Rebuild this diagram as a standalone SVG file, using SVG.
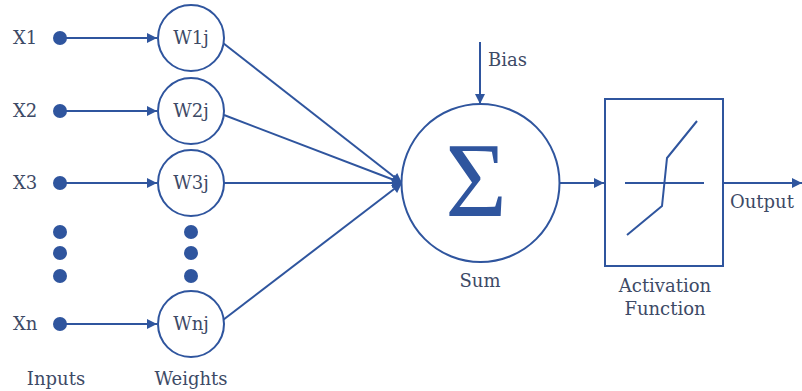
<svg xmlns="http://www.w3.org/2000/svg" width="802" height="391" viewBox="0 0 802 391">
<style>
.t{font-family:"DejaVu Serif","Liberation Serif",serif;font-size:18px;fill:#3d4a66}
.ln{stroke:#2f559e;stroke-width:2;fill:none}
.nd{stroke:#2f559e;stroke-width:2;fill:#fff}
.dot{fill:#2f559e}
</style>
<defs>
<marker id="ahs" viewBox="0 0 10 10" refX="10" refY="5" markerWidth="6" markerHeight="5" orient="auto">
<path d="M0,0 L10,5 L0,10 z" fill="#2f559e"/>
</marker>
</defs>
<g id="connectors">
<line class="ln" x1="60" y1="38" x2="157" y2="38" marker-end="url(#ahs)"/>
<line class="ln" x1="60" y1="111" x2="157" y2="111" marker-end="url(#ahs)"/>
<line class="ln" x1="60" y1="183" x2="157" y2="183" marker-end="url(#ahs)"/>
<line class="ln" x1="60" y1="324" x2="157" y2="324" marker-end="url(#ahs)"/>
<line class="ln" x1="223" y1="43" x2="402" y2="183" marker-end="url(#ahs)"/>
<line class="ln" x1="224" y1="115" x2="402" y2="183" marker-end="url(#ahs)"/>
<line class="ln" x1="224" y1="183" x2="402" y2="183" marker-end="url(#ahs)"/>
<line class="ln" x1="223" y1="320" x2="402" y2="183" marker-end="url(#ahs)"/>
<line class="ln" x1="480" y1="42" x2="480" y2="104" marker-end="url(#ahs)"/>
<line class="ln" x1="559" y1="183" x2="604" y2="183" marker-end="url(#ahs)"/>
<line class="ln" x1="723" y1="183" x2="802" y2="183" marker-end="url(#ahs)"/>
</g>
<g id="x1"><text class="t" x="13" y="44">X1</text><circle class="dot" cx="60" cy="38" r="7"/></g>
<g id="x2"><text class="t" x="13" y="117">X2</text><circle class="dot" cx="60" cy="111" r="7"/></g>
<g id="x3"><text class="t" x="13" y="189">X3</text><circle class="dot" cx="60" cy="183" r="7"/></g>
<g id="xdots"><circle class="dot" cx="60" cy="232" r="7"/><circle class="dot" cx="60" cy="253" r="7"/><circle class="dot" cx="60" cy="276" r="7"/></g>
<g id="xn"><text class="t" x="13" y="330">Xn</text><circle class="dot" cx="60" cy="324" r="7"/></g>
<g id="w1"><circle class="nd" cx="191" cy="38" r="33"/><text class="t" x="191" y="44" text-anchor="middle">W1j</text></g>
<g id="w2"><circle class="nd" cx="191" cy="111" r="33"/><text class="t" x="191" y="117" text-anchor="middle">W2j</text></g>
<g id="w3"><circle class="nd" cx="191" cy="183" r="33"/><text class="t" x="191" y="189" text-anchor="middle">W3j</text></g>
<g id="wdots"><circle class="dot" cx="191" cy="232" r="7"/><circle class="dot" cx="191" cy="253" r="7"/><circle class="dot" cx="191" cy="276" r="7"/></g>
<g id="wn"><circle class="nd" cx="191" cy="324" r="33"/><text class="t" x="191" y="330" text-anchor="middle">Wnj</text></g>
<g id="labels"><text class="t" x="56" y="385" text-anchor="middle">Inputs</text><text class="t" x="191" y="385" text-anchor="middle">Weights</text></g>
<g id="sum">
<circle class="nd" cx="480.5" cy="183" r="79"/>
<text x="476" y="216" text-anchor="middle" style="font-family:'Liberation Serif',serif;font-size:106px;fill:#2f559e">Σ</text>
<text class="t" x="480" y="287" text-anchor="middle">Sum</text>
</g>
<g id="bias"><text class="t" x="488" y="66">Bias</text></g>
<g id="activation">
<rect class="nd" x="605" y="99" width="118" height="167"/>
<line class="ln" x1="625" y1="183" x2="704" y2="183"/>
<polyline class="ln" points="627,235 662,206 667,158 697,121"/>
<text class="t" x="665" y="292" text-anchor="middle">Activation</text>
<text class="t" x="665" y="315" text-anchor="middle">Function</text>
</g>
<g id="output"><text class="t" x="730" y="208">Output</text></g>
</svg>
